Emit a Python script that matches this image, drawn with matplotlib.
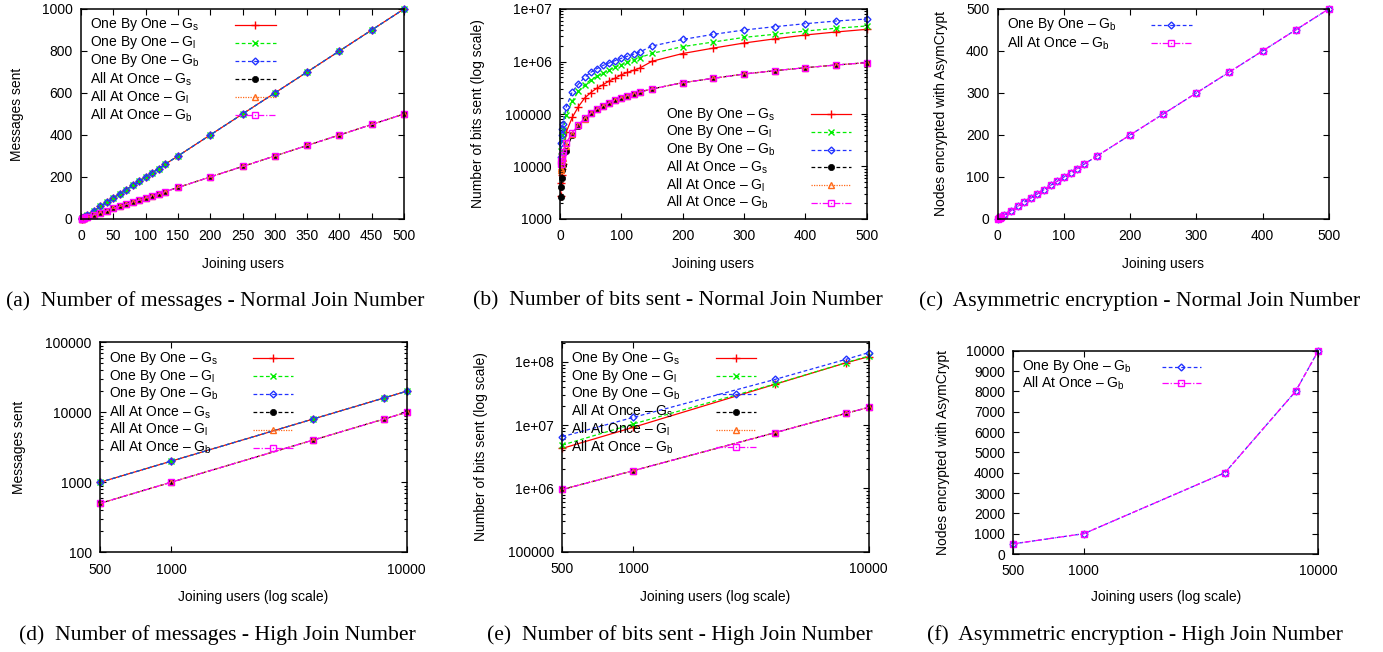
import numpy as np
import matplotlib.pyplot as plt
from matplotlib.ticker import FixedLocator, FixedFormatter, LogLocator, NullLocator

plt.rcParams['font.family'] = ['Liberation Sans', 'DejaVu Sans']
plt.rcParams['mathtext.fontset'] = 'custom'
plt.rcParams['mathtext.rm'] = 'Liberation Sans'
plt.rcParams['font.size'] = 10
plt.rcParams['axes.linewidth'] = 1.1

W, H = 1383, 652

# ---------------- data: normal join number ----------------
normal_users = [1, 2, 3, 4, 5, 10, 20, 30, 40, 50, 60, 70, 80, 90, 100,
                110, 120, 130, 150, 200, 250, 300, 350, 400, 450, 500]

msgs_obo = [2, 4, 6, 8, 10, 20, 40, 60, 80, 100, 120, 140, 160, 180, 200,
            220, 240, 260, 300, 400, 500, 600, 700, 800, 900, 1000]
msgs_aao = [1, 2, 3, 4, 5, 10, 20, 30, 40, 50, 60, 70, 80, 90, 100,
            110, 120, 130, 150, 200, 250, 300, 350, 400, 450, 500]

bits_obo_s = [2700, 4800, 6800, 9000, 11000, 45000, 86000, 138000, 200000, 255000,
              310000, 360000, 425000, 480000, 560000, 620000, 680000, 750000, 1010000,
              1420000, 1800000, 2250000, 2700000, 3200000, 3650000, 4100000]
bits_obo_l = [12000, 20000, 30000, 40000, 50000, 95000, 175000, 270000, 360000, 450000,
              520000, 600000, 690000, 780000, 870000, 960000, 1070000, 1180000, 1430000,
              1920000, 2350000, 2880000, 3300000, 3800000, 4300000, 4750000]
bits_obo_b = [15000, 28000, 40000, 52000, 65000, 134000, 266000, 370000, 500000, 620000,
              730000, 840000, 940000, 1040000, 1150000, 1260000, 1380000, 1520000, 1970000,
              2630000, 3290000, 3980000, 4600000, 5250000, 5900000, 6450000]
bits_aao_s = [2650, 4150, 5950, 8500, 10500, 20000, 40000, 60000, 82000, 103000,
              124000, 144000, 164000, 185000, 205000, 224000, 242000, 263000, 300000,
              395000, 478000, 578000, 668000, 762000, 857000, 950000]
bits_aao_l = [8500, 9500, 11000, 12500, 14500, 25000, 42000, 61000, 82000, 103000,
              124000, 144000, 164000, 185000, 205000, 224000, 242000, 263000, 300000,
              395000, 478000, 578000, 668000, 762000, 857000, 950000]
bits_aao_b = [11000, 12500, 14500, 16500, 19000, 28000, 44000, 62000, 83000, 103000,
              124000, 144000, 164000, 185000, 205000, 224000, 242000, 263000, 300000,
              395000, 478000, 578000, 668000, 762000, 857000, 950000]

nodes_obo_b = [1, 2, 3, 4, 5, 10, 20, 30, 40, 50, 60, 70, 80, 90, 100,
               110, 120, 130, 150, 200, 250, 300, 350, 400, 450, 500]
nodes_aao_b = [1, 2, 3, 4, 5, 10, 20, 30, 40, 50, 60, 70, 80, 90, 100,
               110, 120, 130, 150, 200, 250, 300, 350, 400, 450, 500]

# ---------------- data: high join number ----------------
high_users = [500, 1000, 4000, 8000, 10000]
hmsgs_obo = [1000, 2000, 8000, 16000, 20000]
hmsgs_aao = [500, 1000, 4000, 8000, 10000]
hbits_obo_s = [4280000, 9200000, 44000000, 96000000, 120000000]
hbits_obo_l = [4830000, 10400000, 44400000, 96500000, 123000000]
hbits_obo_b = [6550000, 13200000, 52500000, 109000000, 139000000]
hbits_aao = [960000, 1900000, 7570000, 15300000, 19000000]
hnodes_obo_b = [500, 1000, 4000, 8000, 10000]
hnodes_aao_b = [500, 1000, 4000, 8000, 10000]

# tick labels
log_ticks_b = [1000, 10000, 100000, 1e6, 1e7]
log_labels_b = ['1000', '10000', '100000', '1e+06', '1e+07']
log_ticks_d = [100, 1000, 10000, 100000]
log_labels_d = ['100', '1000', '10000', '100000']
log_ticks_e = [1e5, 1e6, 1e7, 1e8]
log_labels_e = ['100000', '1e+06', '1e+07', '1e+08']
high_ticks = [500, 1000, 10000]
high_labels = ['500', '1000', '10000']

captions = [
    '(a)  Number of messages - Normal Join Number',
    '(b)  Number of bits sent - Normal Join Number',
    '(c)  Asymmetric encryption - Normal Join Number',
    '(d)  Number of messages - High Join Number',
    '(e)  Number of bits sent - High Join Number',
    '(f)  Asymmetric encryption - High Join Number',
]

# gnuplot-like line styles
STY = {
    'obo_s': dict(color='#ff0000', ls='-', marker='+', ms=5.5, mew=1.0),
    'obo_l': dict(color='#00ee00', ls=(0, (3, 2)), marker='x', ms=4.5, mew=1.0),
    'obo_b': dict(color='#2233ff', ls=(0, (3, 2)), marker='D', ms=3.5, mew=1.0, mfc='none'),
    'aao_s': dict(color='#000000', ls=(0, (3, 2)), marker='o', ms=4.5, mew=0.5),
    'aao_l': dict(color='#ff6a1a', ls=(0, (1, 1)), marker='^', ms=4.5, mew=1.0, mfc='none'),
    'aao_b': dict(color='#ff00ff', ls=(0, (5, 1.5, 1, 1.5)), marker='s', ms=4.5, mew=1.0, mfc='none'),
}
LBL = {
    'obo_s': r'One By One – G$_\mathregular{s}$',
    'obo_l': r'One By One – G$_\mathregular{l}$',
    'obo_b': r'One By One – G$_\mathregular{b}$',
    'aao_s': r'All At Once – G$_\mathregular{s}$',
    'aao_l': r'All At Once – G$_\mathregular{l}$',
    'aao_b': r'All At Once – G$_\mathregular{b}$',
}


def px_axes(fig, left, top, right, bottom):
    return fig.add_axes([left / W, 1 - bottom / H, (right - left) / W, (bottom - top) / H])


def style_axes(ax):
    ax.tick_params(which='both', direction='in', top=True, right=True,
                   labelsize=10, width=0.8)
    ax.tick_params(which='major', length=4.5)
    ax.tick_params(which='minor', length=2.5)
    ax.tick_params(axis='y', pad=6)
    ax.tick_params(axis='x', pad=7.5)


def draw_key(ax, keys, x_text, y_top, step, x_line):
    for i, k in enumerate(keys):
        y = y_top - i * step
        ax.text(x_text, y, LBL[k], transform=ax.transAxes, va='center', ha='left', fontsize=10)
        xm = (x_line[0] + x_line[1]) / 2
        ax.plot([x_line[0], xm, x_line[1]], [y, y, y], transform=ax.transAxes,
                markevery=[1], clip_on=False, lw=0.9, **STY[k])


def series(ax, x, ys):
    for k, y in ys:
        ax.plot(x, y, lw=0.9, clip_on=False, **STY[k])


def labels(ax, xl, yl, xcoord, ycoord):
    ax.set_xlabel(xl, fontsize=10, va='center')
    ax.set_ylabel(yl, fontsize=10, va='center')
    ax.xaxis.set_label_coords(0.5, xcoord)
    ax.yaxis.set_label_coords(ycoord, 0.5)


fig = plt.figure(figsize=(W / 100, H / 100), dpi=100)

# (a)
ax = px_axes(fig, 81, 9, 404, 219)
series(ax, normal_users, [('obo_s', msgs_obo), ('obo_l', msgs_obo), ('obo_b', msgs_obo),
                          ('aao_s', msgs_aao), ('aao_l', msgs_aao), ('aao_b', msgs_aao)])
ax.set_xlim(0, 500)
ax.set_ylim(0, 1000)
ax.set_xticks(range(0, 501, 50))
ax.set_yticks(range(0, 1001, 200))
style_axes(ax)
labels(ax, 'Joining users', 'Messages sent', -0.214, -0.198)
draw_key(ax, ['obo_s', 'obo_l', 'obo_b', 'aao_s', 'aao_l', 'aao_b'],
         0.028, 0.924, 0.0857, (0.476, 0.603))

# (b)
ax = px_axes(fig, 560, 9, 866.7, 219)
series(ax, normal_users, [('obo_s', bits_obo_s), ('obo_l', bits_obo_l), ('obo_b', bits_obo_b),
                          ('aao_s', bits_aao_s), ('aao_l', bits_aao_l), ('aao_b', bits_aao_b)])
ax.set_yscale('log')
ax.set_xlim(0, 500)
ax.set_ylim(1000, 1e7)
ax.set_xticks(range(0, 501, 100))
ax.yaxis.set_major_locator(FixedLocator(log_ticks_b))
ax.yaxis.set_major_formatter(FixedFormatter(log_labels_b))
ax.yaxis.set_minor_locator(LogLocator(base=10, subs=range(2, 10)))
style_axes(ax)
labels(ax, 'Joining users', 'Number of bits sent (log scale)', -0.214, -0.266)
draw_key(ax, ['obo_s', 'obo_l', 'obo_b', 'aao_s', 'aao_l', 'aao_b'],
         0.346, 0.499, 0.0843, (0.817, 0.948))

# (c)
ax = px_axes(fig, 997.7, 9, 1328.7, 219)
series(ax, normal_users, [('obo_b', nodes_obo_b), ('aao_b', nodes_aao_b)])
ax.set_xlim(0, 500)
ax.set_ylim(0, 500)
ax.set_xticks(range(0, 501, 100))
ax.set_yticks(range(0, 501, 100))
style_axes(ax)
labels(ax, 'Joining users', 'Nodes encrypted with AsymCrypt', -0.214, -0.172)
draw_key(ax, ['obo_b', 'aao_b'], 0.027, 0.924, 0.0857, (0.463, 0.586))

# (d)
ax = px_axes(fig, 100, 342.3, 406.7, 552.3)
series(ax, high_users, [('obo_s', hmsgs_obo), ('obo_l', hmsgs_obo), ('obo_b', hmsgs_obo),
                        ('aao_s', hmsgs_aao), ('aao_l', hmsgs_aao), ('aao_b', hmsgs_aao)])
ax.set_xscale('log')
ax.set_yscale('log')
ax.set_xlim(500, 10000)
ax.set_ylim(100, 100000)
ax.xaxis.set_major_locator(FixedLocator(high_ticks))
ax.xaxis.set_major_formatter(FixedFormatter(high_labels))
ax.xaxis.set_minor_locator(NullLocator())
ax.yaxis.set_major_locator(FixedLocator(log_ticks_d))
ax.yaxis.set_major_formatter(FixedFormatter(log_labels_d))
ax.yaxis.set_minor_locator(LogLocator(base=10, subs=range(2, 10)))
style_axes(ax)
labels(ax, 'Joining users (log scale)', 'Messages sent', -0.214, -0.264)
draw_key(ax, ['obo_s', 'obo_l', 'obo_b', 'aao_s', 'aao_l', 'aao_b'],
         0.029, 0.924, 0.085, (0.499, 0.629))

# (e)
ax = px_axes(fig, 562.3, 341.7, 868.7, 551.7)
series(ax, high_users, [('obo_s', hbits_obo_s), ('obo_l', hbits_obo_l), ('obo_b', hbits_obo_b),
                        ('aao_s', hbits_aao), ('aao_l', hbits_aao), ('aao_b', hbits_aao)])
ax.set_xscale('log')
ax.set_yscale('log')
ax.set_xlim(500, 10000)
ax.set_ylim(1e5, 2.07e8)
ax.xaxis.set_major_locator(FixedLocator(high_ticks))
ax.xaxis.set_major_formatter(FixedFormatter(high_labels))
ax.xaxis.set_minor_locator(NullLocator())
ax.yaxis.set_major_locator(FixedLocator(log_ticks_e))
ax.yaxis.set_major_formatter(FixedFormatter(log_labels_e))
ax.yaxis.set_minor_locator(LogLocator(base=10, subs=range(2, 10)))
style_axes(ax)
labels(ax, 'Joining users (log scale)', 'Number of bits sent (log scale)', -0.216, -0.265)
draw_key(ax, ['obo_s', 'obo_l', 'obo_b', 'aao_s', 'aao_l', 'aao_b'],
         0.028, 0.921, 0.0848, (0.5, 0.631))

# (f)
ax = px_axes(fig, 1013.3, 350.7, 1318.3, 554)
series(ax, high_users, [('obo_b', hnodes_obo_b), ('aao_b', hnodes_aao_b)])
ax.set_xscale('log')
ax.set_xlim(500, 10000)
ax.set_ylim(0, 10000)
ax.xaxis.set_major_locator(FixedLocator(high_ticks))
ax.xaxis.set_major_formatter(FixedFormatter(high_labels))
ax.xaxis.set_minor_locator(NullLocator())
ax.set_yticks(range(0, 10001, 1000))
style_axes(ax)
labels(ax, 'Joining users (log scale)', 'Nodes encrypted with AsymCrypt', -0.212, -0.231)
draw_key(ax, ['obo_b', 'aao_b'], 0.0275, 0.921, 0.082, (0.487, 0.615))

# sub-figure captions
cap_pos = [(215, 301), (678, 301), (1140, 301), (217, 635), (680, 635), (1135, 635)]
for (cx, cy), txt in zip(cap_pos, captions):
    fig.text(cx / W, 1 - cy / H, txt, ha='center', va='center',
             family='Liberation Serif', fontsize=15.6)

fig.savefig('out.png', dpi=100)
